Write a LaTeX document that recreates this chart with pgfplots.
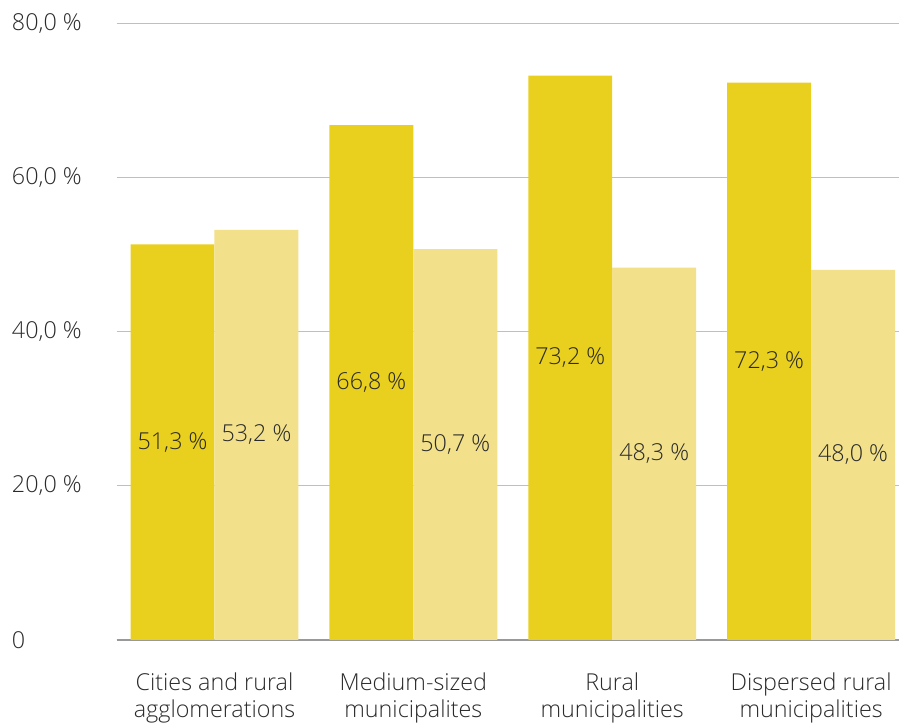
\documentclass[border=0pt]{standalone}
\usepackage{pgfplots}
\pgfplotsset{compat=1.18}
\usepackage{fontspec}
\setmainfont{Open Sans Light}
\definecolor{darky}{HTML}{E9CF1E}
\definecolor{lighty}{HTML}{F2E18A}
\definecolor{txt}{HTML}{2A2A2A}
\newcommand{\yl}[1]{\mbox{\fontsize{17.5}{20}\selectfont #1}}
\begin{document}
\begin{tikzpicture}
\begin{axis}[
  scale only axis,
  width=587.25pt, height=462.75pt,
  ybar=0pt, bar width=63pt,
  xmin=-0.492, xmax=3.442,
  ymin=0, ymax=80,
  ytick={0,20,40,60,80},
  yticklabels={\yl{0},\yl{20,0 \%},\yl{40,0 \%},\yl{60,0 \%},\yl{80,0 \%}},
  xtick={0,1,2,3},
  xticklabels={{Cities and rural\\agglomerations},{Medium-sized\\municipalites},{Rural\\municipalities},{Dispersed rural\\municipalities}},
  xticklabel style={align=center, font=\fontsize{17.5}{20.5}\selectfont, text=txt, yshift=-21pt},
  yticklabel style={anchor=west, xshift=-87.75pt, inner xsep=9pt, inner ysep=10pt, text=txt},
  major tick length=0pt,
  axis x line*=bottom, axis y line*=left,
  y axis line style={draw=none},
  x axis line style={draw=black!40, line width=1.5pt, -},
  ymajorgrids, grid style={draw=black!25, line width=0.8pt},
  nodes near coords,
  visualization depends on={rawy \as \rawy},
  every node near coord/.append style={anchor=center, yshift=-\rawy*2.8921875pt, font=\fontsize{17.5}{20}\selectfont, text=txt},
  nodes near coords={\pgfmathprintnumber[fixed, fixed zerofill, precision=1, use comma, assume math mode=true]{\rawy}\ \%},
]
\addplot[fill=darky, draw=none] coordinates {(0,51.3) (1,66.8) (2,73.2) (3,72.3)};
\addplot[fill=lighty, draw=none] coordinates {(0,53.2) (1,50.7) (2,48.3) (3,48.0)};
\end{axis}
\end{tikzpicture}
\end{document}
